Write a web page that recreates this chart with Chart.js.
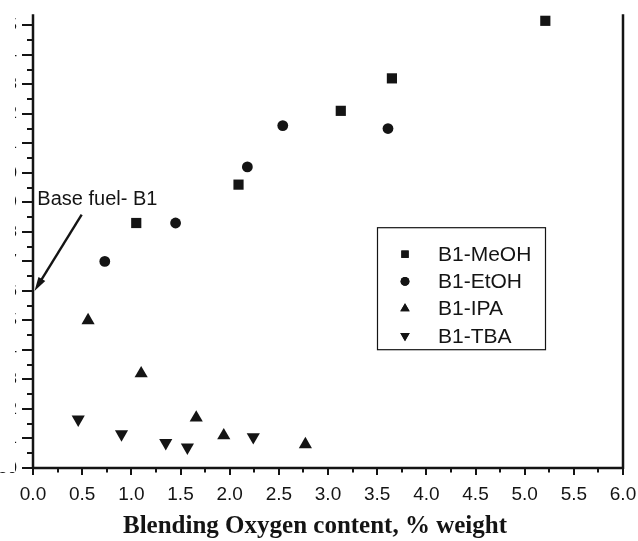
<!DOCTYPE html>
<html>
<head>
<meta charset="utf-8">
<script src="https://cdn.jsdelivr.net/npm/chart.js@4/dist/chart.umd.min.js"></script>
<style>
  html, body { margin: 0; padding: 0; background: #fff; }
  #wrap { width: 638px; height: 541px; position: relative; }
</style>
</head>
<body>
<div id="wrap"><canvas id="c" width="638" height="541"></canvas></div>
<script>
// Axis tick values
const xTicks = [0, 0.5, 1, 1.5, 2, 2.5, 3, 3.5, 4, 4.5, 5, 5.5, 6];
const yTicks = [50, 51, 52, 53, 54, 55, 56, 57, 58, 59, 60, 61, 62, 63, 64, 65];

// Oxygen content (% weight) and measured value for each blend
const meohX = [1.05, 2.09, 3.13, 3.65, 5.21];
const meohY = [58.3, 59.6, 62.1, 63.2, 65.15];
const etohX = [0.73, 1.45, 2.18, 2.54, 3.61];
const etohY = [57.0, 58.3, 60.2, 61.6, 61.5];
const ipaX  = [0.56, 1.10, 1.66, 1.94, 2.77];
const ipaY  = [55.0, 53.2, 51.7, 51.1, 50.8];
const tbaX  = [0.46, 0.90, 1.35, 1.57, 2.24];
const tbaY  = [51.65, 51.15, 50.85, 50.7, 51.05];

// Base fuel (no oxygenate)
const baseX = 0;
const baseY = 56.0;
const baseLabel = 'Base fuel- B1';

const seriesNames = ['B1-MeOH', 'B1-EtOH', 'B1-IPA', 'B1-TBA'];
const xTitle = 'Blending Oxygen content, % weight';

const INK = '#141414';
const SANS = '"Liberation Sans", Arial, Helvetica, sans-serif';
const SERIF = '"Liberation Serif", "Times New Roman", serif';

function pts(xs, ys) { return xs.map((x, i) => ({ x: x, y: ys[i] })); }

const datasets = [
  { label: seriesNames[0], data: pts(meohX, meohY), pointStyle: 'rect',     pointRadius: 7.2, rotation: 0 },
  { label: seriesNames[1], data: pts(etohX, etohY), pointStyle: 'circle',   pointRadius: 5.4, rotation: 0 },
  { label: seriesNames[2], data: pts(ipaX, ipaY),   pointStyle: 'triangle', pointRadius: 7.6, rotation: 0 },
  { label: seriesNames[3], data: pts(tbaX, tbaY),   pointStyle: 'triangle', pointRadius: 7.6, rotation: 180 }
].map(d => Object.assign(d, {
  backgroundColor: INK, borderColor: INK, borderWidth: 0,
  pointHoverRadius: d.pointRadius, showLine: false, clip: false
}));

function marker(ctx, style, r, rot, x, y) {
  ctx.save();
  ctx.fillStyle = INK;
  ctx.strokeStyle = INK;
  ctx.lineWidth = 0;
  Chart.helpers.drawPoint(ctx, { pointStyle: style, radius: r, rotation: rot, borderWidth: 0 }, x, y);
  ctx.fill();
  ctx.restore();
}

// Axes frame, tick marks, axis title, annotation and legend box
const decorations = {
  id: 'decorations',
  afterDraw(chart) {
    const ctx = chart.ctx;
    const a = chart.chartArea;
    const xs = chart.scales.x, ys = chart.scales.y;

    // left margin is trimmed, only the last digit edge of the y labels shows
    ctx.save();
    ctx.fillStyle = '#fff';
    ctx.fillRect(0, 0, 15, a.bottom + 4);
    ctx.restore();

    ctx.save();
    ctx.strokeStyle = INK;
    ctx.lineWidth = 2.5;
    ctx.beginPath();
    ctx.moveTo(a.left, a.top - 1);
    ctx.lineTo(a.left, a.bottom + 1);
    ctx.moveTo(a.left - 1, a.bottom);
    ctx.lineTo(a.right + 1, a.bottom);
    ctx.moveTo(a.right, a.bottom + 1);
    ctx.lineTo(a.right, a.top - 1);
    ctx.stroke();

    // y ticks: majors every 1, minors every 0.5
    ctx.lineWidth = 2;
    ctx.beginPath();
    for (let v = yTicks[0]; v <= yTicks[yTicks.length - 1] + 1e-9; v += 0.5) {
      const py = Math.round(ys.getPixelForValue(v));
      const major = Math.abs(v - Math.round(v)) < 1e-6;
      ctx.moveTo(a.left - (major ? 11 : 6), py);
      ctx.lineTo(a.left, py);
    }
    // x ticks: majors every 0.5, minors every 0.25
    for (let v = xTicks[0]; v <= xTicks[xTicks.length - 1] + 1e-9; v += 0.25) {
      const px = Math.round(xs.getPixelForValue(v));
      const major = Math.abs(v * 2 - Math.round(v * 2)) < 1e-6;
      ctx.moveTo(px, a.bottom);
      ctx.lineTo(px, a.bottom + (major ? 7 : 4.5));
    }
    ctx.stroke();
    ctx.restore();

    // x axis title
    ctx.save();
    ctx.fillStyle = INK;
    ctx.font = 'bold 25px ' + SERIF;
    ctx.textAlign = 'center';
    ctx.textBaseline = 'middle';
    ctx.fillText(xTitle, (a.left + a.right) / 2 - 13, 527);
    ctx.restore();

    // base fuel label with arrow to the axis point
    const tx = xs.getPixelForValue(0.044), ty = ys.getPixelForValue(58.92);
    ctx.save();
    ctx.fillStyle = INK;
    ctx.font = '20px ' + SANS;
    ctx.textBaseline = 'alphabetic';
    ctx.textAlign = 'left';
    ctx.fillText(baseLabel, tx, ty);

    const sx = xs.getPixelForValue(0.495), sy = ys.getPixelForValue(58.58);
    const ex = xs.getPixelForValue(baseX) + 1.5, ey = ys.getPixelForValue(baseY);
    const ang = Math.atan2(ey - sy, ex - sx);
    const hl = 14, hw = 4;
    ctx.strokeStyle = INK;
    ctx.lineWidth = 2.4;
    ctx.beginPath();
    ctx.moveTo(sx, sy);
    ctx.lineTo(ex - Math.cos(ang) * hl * 0.8, ey - Math.sin(ang) * hl * 0.8);
    ctx.stroke();
    ctx.beginPath();
    ctx.moveTo(ex, ey);
    ctx.lineTo(ex - Math.cos(ang) * hl - Math.sin(ang) * hw, ey - Math.sin(ang) * hl + Math.cos(ang) * hw);
    ctx.lineTo(ex - Math.cos(ang) * hl + Math.sin(ang) * hw, ey - Math.sin(ang) * hl - Math.cos(ang) * hw);
    ctx.closePath();
    ctx.fill();
    ctx.restore();

    // legend
    const lx = a.left + 344, ly = a.top + 212, lw = 168, lh = 122;
    ctx.save();
    ctx.strokeStyle = INK;
    ctx.lineWidth = 1.2;
    ctx.strokeRect(lx + 0.5, ly + 0.5, lw, lh);
    ctx.font = '21px ' + SANS;
    ctx.fillStyle = INK;
    ctx.textBaseline = 'middle';
    ctx.textAlign = 'left';
    const legR = { rect: 5.2, circle: 4.4, triangle: 5.4 };
    chart.data.datasets.forEach((d, i) => {
      const cy = ly + 27 + i * 27.2;
      marker(ctx, d.pointStyle, legR[d.pointStyle], d.rotation, lx + 28, cy);
      ctx.fillStyle = INK;
      ctx.fillText(d.label, lx + 61, cy + 1);
    });
    ctx.restore();
  }
};

new Chart(document.getElementById('c'), {
  type: 'scatter',
  data: { datasets: datasets },
  options: {
    responsive: false,
    animation: false,
    devicePixelRatio: 1,
    layout: { padding: { top: 13, right: 15, left: 0, bottom: 0 } },
    plugins: {
      legend: { display: false },
      tooltip: { enabled: false },
      title: { display: false }
    },
    scales: {
      x: {
        type: 'linear',
        min: xTicks[0],
        max: xTicks[xTicks.length - 1],
        afterBuildTicks: s => { s.ticks = xTicks.map(v => ({ value: v })); },
        afterFit: s => { s.height = 73; s.paddingLeft = 0; s.paddingRight = 0; },
        border: { display: false },
        grid: { drawOnChartArea: false, drawTicks: true, tickLength: 7, color: 'rgba(0,0,0,0)' },
        ticks: {
          color: INK, padding: 8, maxRotation: 0, autoSkip: false,
          font: { family: SANS, size: 19 },
          callback: v => Number(v).toFixed(1)
        }
      },
      y: {
        type: 'linear',
        min: yTicks[0],
        max: 65.34,
        afterBuildTicks: s => { s.ticks = yTicks.map(v => ({ value: v })); },
        afterFit: s => { s.width = 33; },
        border: { display: false },
        grid: { drawOnChartArea: false, drawTicks: true, tickLength: 11, color: 'rgba(0,0,0,0)' },
        ticks: {
          color: INK, padding: 5, autoSkip: false,
          font: { family: SANS, size: 17 },
          callback: v => String(v)
        }
      }
    }
  },
  plugins: [decorations]
});
</script>
</body>
</html>
